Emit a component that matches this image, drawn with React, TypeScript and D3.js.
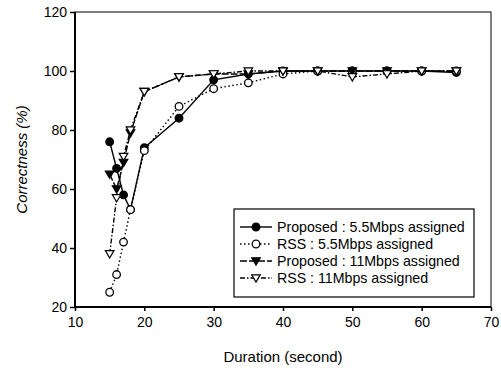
import React, { useEffect, useRef } from 'react';
import * as d3 from 'd3';

const durations = [15, 16, 17, 18, 20, 25, 30, 35, 40, 45, 50, 55, 60, 65];
const proposed55 = [76, 67, 58, 53, 74, 84, 97, 99, 100, 100, 100, 100, 100, 99.5];
const rss55 = [25, 31, 42, 53, 73, 88, 94, 96, 99, 100, 100, 100, 100, 100];
const proposed11 = [65, 60, 69, 79, 93, 98, 99, 99, 100, 100, 100, 100, 100, 100];
const rss11 = [38, 57, 71, 80, 93, 98, 99, 100, 100, 100, 98, 99, 100, 100];
const xTicks = [10, 20, 30, 40, 50, 60, 70];
const yTicks = [20, 40, 60, 80, 100, 120];

type Series = { name: string; values: number[]; marker: string; dash: string };

const series: Series[] = [
  { name: 'Proposed : 5.5Mbps assigned', values: proposed55, marker: 'dot', dash: '' },
  { name: 'RSS : 5.5Mbps assigned', values: rss55, marker: 'circle', dash: '1.5,2.5' },
  { name: 'Proposed : 11Mbps assigned', values: proposed11, marker: 'tri', dash: '7,2' },
  { name: 'RSS : 11Mbps assigned', values: rss11, marker: 'opentri', dash: '5,2,1.5,2' },
];

const W = 501;
const H = 370;
const left = 75;
const right = 491;
const top = 12;
const bottom = 307;
const font = '"Liberation Sans", Arial, sans-serif';

function drawMarker(g: d3.Selection<SVGGElement, unknown, null, undefined>, kind: string, x: number, y: number) {
  if (kind === 'dot' || kind === 'circle') {
    g.append('circle')
      .attr('cx', x)
      .attr('cy', y)
      .attr('r', 3.8)
      .attr('fill', kind === 'dot' ? '#000' : '#fff')
      .attr('stroke', '#000')
      .attr('stroke-width', 1.3);
  } else {
    const s = 4.3;
    g.append('path')
      .attr('d', `M${x - s},${y - s * 0.75}L${x + s},${y - s * 0.75}L${x},${y + s * 0.95}Z`)
      .attr('fill', kind === 'tri' ? '#000' : '#fff')
      .attr('stroke', '#000')
      .attr('stroke-width', 1.2);
  }
}

export default function App() {
  const svgRef = useRef<SVGSVGElement | null>(null);

  useEffect(() => {
    const svg = d3.select(svgRef.current);
    svg.selectAll('*').remove();

    const x = d3.scaleLinear().domain([10, 70]).range([left, right]);
    const y = d3.scaleLinear().domain([20, 120]).range([bottom, top]);

    // frame
    svg.append('rect')
      .attr('x', left).attr('y', top)
      .attr('width', right - left).attr('height', bottom - top)
      .attr('fill', 'none').attr('stroke', '#000').attr('stroke-width', 1);
    svg.append('line')
      .attr('x1', left).attr('x2', left).attr('y1', top).attr('y2', bottom)
      .attr('stroke', '#000').attr('stroke-width', 2);
    svg.append('line')
      .attr('x1', left).attr('x2', right).attr('y1', bottom).attr('y2', bottom)
      .attr('stroke', '#000').attr('stroke-width', 2);

    // axes
    const xAxis = svg.append('g')
      .attr('transform', `translate(0,${bottom})`)
      .call(d3.axisBottom(x).tickValues(xTicks).tickSize(4).tickPadding(6).tickFormat(d3.format('d')));
    const yAxis = svg.append('g')
      .attr('transform', `translate(${left},0)`)
      .call(d3.axisLeft(y).tickValues(yTicks).tickSize(5).tickPadding(3).tickFormat(d3.format('d')));
    [xAxis, yAxis].forEach((a) => {
      a.select('.domain').remove();
      a.selectAll('text')
        .attr('font-family', font)
        .attr('font-size', 14)
        .attr('fill', '#000');
      a.selectAll('line').attr('stroke', '#000').attr('stroke-width', 1.5);
    });

    // series
    series.forEach((s) => {
      const line = d3.line<number>()
        .x((_, i) => x(durations[i]))
        .y((d) => y(d));
      svg.append('path')
        .datum(s.values)
        .attr('d', line)
        .attr('fill', 'none')
        .attr('stroke', '#000')
        .attr('stroke-width', 1.4)
        .attr('stroke-dasharray', s.dash || null);
      const g = svg.append('g');
      s.values.forEach((v, i) => drawMarker(g, s.marker, x(durations[i]), y(v)));
    });

    // legend
    const lg = svg.append('g');
    lg.append('rect')
      .attr('x', 234).attr('y', 209).attr('width', 240).attr('height', 88)
      .attr('fill', '#fff').attr('stroke', '#000').attr('stroke-width', 1.2);
    series.forEach((s, i) => {
      const ly = 227 + i * 17;
      lg.append('line')
        .attr('x1', 240).attr('x2', 272).attr('y1', ly).attr('y2', ly)
        .attr('stroke', '#000').attr('stroke-width', 1.4)
        .attr('stroke-dasharray', s.dash || null);
      drawMarker(lg, s.marker, 256, ly);
      lg.append('text')
        .attr('x', 277).attr('y', ly + 5)
        .attr('font-family', font)
        .attr('font-size', 14.2)
        .text(s.name);
    });

    // axis titles
    svg.append('text')
      .attr('x', 283).attr('y', 362)
      .attr('text-anchor', 'middle')
      .attr('font-family', font)
      .attr('font-size', 15)
      .text('Duration (second)');
    svg.append('text')
      .attr('transform', `translate(27,${(top + bottom) / 2}) rotate(-90)`)
      .attr('text-anchor', 'middle')
      .attr('font-family', font)
      .attr('font-size', 15)
      .attr('font-style', 'italic')
      .text('Correctness (%)');
  }, []);

  return (
    <svg
      ref={svgRef}
      width={W}
      height={H}
      style={{ position: 'absolute', left: 0, top: 0, display: 'block', background: '#fff', overflow: 'visible' }}
    />
  );
}
